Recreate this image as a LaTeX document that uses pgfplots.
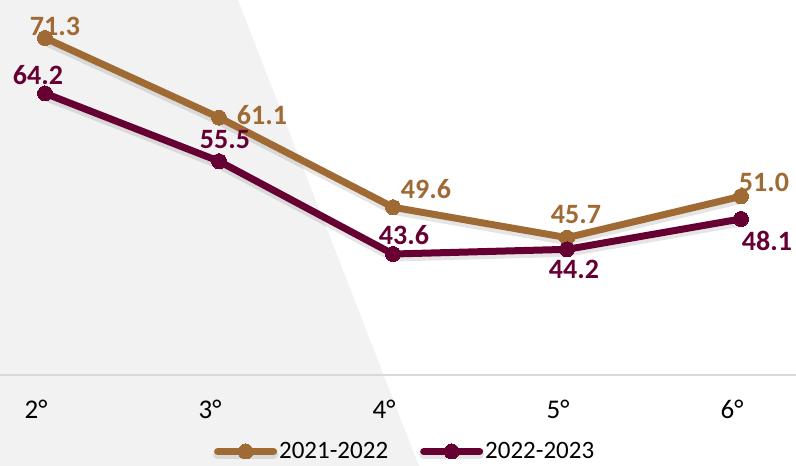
\documentclass[border=0pt]{standalone}
\usepackage{pgfplots}
\pgfplotsset{compat=1.18}
\usepackage{fontspec}
\setmainfont{Carlito}
\definecolor{cBrown}{HTML}{A06A34}
\definecolor{cMaroon}{HTML}{660033}
\definecolor{cBg}{HTML}{F2F2F2}
\definecolor{cAxis}{HTML}{D9D9D9}
\begin{document}
\begin{tikzpicture}[x=1pt,y=1pt]
\path[use as bounding box] (0,0) rectangle (796,466);
\fill[cBg] (0,466) -- (238,466) -- (419,0) -- (0,0) -- cycle;
\begin{axis}[
  at={(0pt,91pt)}, anchor=south west,
  width=796pt, height=375pt, scale only axis,
  xmin=-0.2586, xmax=4.316, ymin=28.09, ymax=76.17,
  axis x line=bottom, axis y line=none,
  x axis line style={draw=cAxis, line width=2.5pt, -},
  xtick={0,1,2,3,4}, xticklabels={2°,3°,4°,5°,6°},
  major tick length=0pt,
  xticklabel style={font=\fontsize{27}{30}\selectfont, inner sep=0pt, anchor=north, yshift=-25pt, xshift=-9pt},
  ytick=\empty,
  clip=false,
  legend style={at={(0.509,-0.2040)}, anchor=center, draw=none, fill=none,
    font=\fontsize{25}{27}\selectfont, legend columns=2,
    /tikz/every even column/.append style={column sep=30pt},
    inner sep=0pt, row sep=0pt},
  legend image code/.code={\draw[#1, mark repeat=2, mark phase=2] plot coordinates {(0pt,0pt)(28pt,0pt)(56pt,0pt)};},
  legend cell align=left,
]
\addplot[cBrown, line width=7pt, line cap=round, line join=round, mark=*, mark size=7.5pt, mark options={line width=0pt},
  preaction={draw=black, opacity=0.10, line width=9pt, transform canvas={yshift=-3pt}}] coordinates {(0,71.3) (1,61.1) (2,49.6) (3,45.7) (4,51.0)};
\addlegendentry{2021-2022}
\addplot[cMaroon, line width=7pt, line cap=round, line join=round, mark=*, mark size=7.5pt, mark options={line width=0pt},
  preaction={draw=black, opacity=0.10, line width=9pt, transform canvas={yshift=-3pt}}] coordinates {(0,64.2) (1,55.5) (2,43.6) (3,44.2) (4,48.1)};
\addlegendentry{2022-2023}
\begin{scope}[every node/.style={font=\fontsize{28}{30}\selectfont\bfseries, inner sep=0pt}]
\node[text=cBrown, xshift=10pt, yshift=12pt] at (axis cs:0,71.3) {71.3};
\node[text=cBrown, xshift=43pt, yshift=2pt] at (axis cs:1,61.1) {61.1};
\node[text=cBrown, xshift=33pt, yshift=18pt] at (axis cs:2,49.6) {49.6};
\node[text=cBrown, xshift=9pt, yshift=23pt] at (axis cs:3,45.7) {45.7};
\node[text=cBrown, xshift=23pt, yshift=14pt] at (axis cs:4,51.0) {51.0};
\node[text=cMaroon, xshift=-7pt, yshift=18pt] at (axis cs:0,64.2) {64.2};
\node[text=cMaroon, xshift=6pt, yshift=22pt] at (axis cs:1,55.5) {55.5};
\node[text=cMaroon, xshift=11pt, yshift=19pt] at (axis cs:2,43.6) {43.6};
\node[text=cMaroon, xshift=7pt, yshift=-20pt] at (axis cs:3,44.2) {44.2};
\node[text=cMaroon, xshift=26pt, yshift=-22pt] at (axis cs:4,48.1) {48.1};
\end{scope}
\end{axis}
\end{tikzpicture}
\end{document}
